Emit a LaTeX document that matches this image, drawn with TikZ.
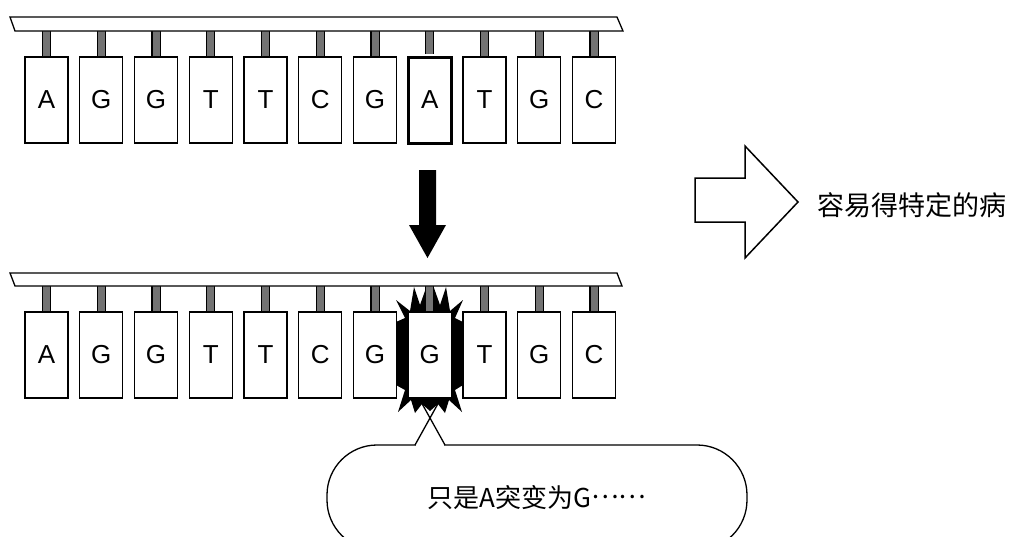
\documentclass[tikz,border=0pt]{standalone}
\usepackage{fontspec}
\setmainfont{Liberation Sans}
\newfontfamily\cjk{Noto Sans CJK SC}
\usetikzlibrary{positioning}

\begin{document}
\begin{tikzpicture}[x=1pt,y=-1pt]
	 \tikzstyle{base}=[draw,fill=white,line width=1.3pt,minimum width=43pt,minimum height=86pt,inner sep=0pt,font=\fontsize{26}{30}\selectfont]
	 \tikzstyle{hit}=[base,line width=3pt]
	 \tikzstyle{stem}=[draw=black,line width=1.2pt,double=black!55,double distance=7pt]
	 \tikzstyle{rail}=[draw,fill=white,line width=1.3pt]
	 \tikzstyle{tail}=[draw,line width=1.3pt]
	 \useasboundingbox (0,0) rectangle (1020,536);
	 \clip (0,0) rectangle (1020,536);

	 % callout under the mutated base
	 \node[draw,line width=1.3pt,rounded corners=50pt,minimum width=420pt,minimum height=105pt,inner sep=0pt,font=\cjk\fontsize{26}{30}\selectfont] (callout) at (537,497.5) {只是A突变为G\raisebox{0.33em}{……}};
	 \coordinate (tailL) at (415,445);
	 \coordinate (tailR) at (445,445);
	 \coordinate (tipL) at (440,400);
	 \coordinate (tipR) at (420,400);
	 \fill[white] (416,443) rectangle (444,447.5);
	 \draw[tail] (tailL) -- (tipL);
	 \draw[tail] (tailR) -- (tipR);

	 % burst
	 \fill (396,300) -- (410,311) -- (414,287) -- (420,305) -- (426,288) -- (434,288) -- (440,305) -- (446,287) -- (450,311) -- (463,300) -- (455,318) -- (463,322) -- (463,385) -- (455,390) -- (462,412) -- (449,400) -- (445,413) -- (438,404) -- (430,411) -- (422,404) -- (415,413) -- (411,400) -- (398,412) -- (405,390) -- (396,385) -- (396,322) -- (405,318) -- cycle;

	 \node[base] (t1) at (46.5,100) {A};
	 \node[base] (t2) at (101.25,100) {G};
	 \node[base] (t3) at (156,100) {G};
	 \node[base] (t4) at (210.75,100) {T};
	 \node[base] (t5) at (265.5,100) {T};
	 \node[base] (t6) at (320.25,100) {C};
	 \node[base] (t7) at (375,100) {G};
	 \node[hit] (t8) at (429.75,100) {A};
	 \node[base] (t9) at (484.5,100) {T};
	 \node[base] (t10) at (539.25,100) {G};
	 \node[base] (t11) at (594,100) {C};

	 \node[base] (b1) at (46.5,355) {A};
	 \node[base] (b2) at (101.25,355) {G};
	 \node[base] (b3) at (156,355) {G};
	 \node[base] (b4) at (210.75,355) {T};
	 \node[base] (b5) at (265.5,355) {T};
	 \node[base] (b6) at (320.25,355) {C};
	 \node[base] (b7) at (375,355) {G};
	 \node[base] (b8) at (429.75,355) {G};
	 \node[base] (b9) at (484.5,355) {T};
	 \node[base] (b10) at (539.25,355) {G};
	 \node[base] (b11) at (594,355) {C};

	 \draw[stem] (t1.north) -- ++(0,-28);
	 \draw[stem] (t2.north) -- ++(0,-28);
	 \draw[stem] (t3.north) -- ++(0,-28);
	 \draw[stem] (t4.north) -- ++(0,-28);
	 \draw[stem] (t5.north) -- ++(0,-28);
	 \draw[stem] (t6.north) -- ++(0,-28);
	 \draw[stem] (t7.north) -- ++(0,-28);
	 \draw[stem] ([yshift=1.5pt]t8.north) -- ++(0,-28);
	 \draw[stem] (t9.north) -- ++(0,-28);
	 \draw[stem] (t10.north) -- ++(0,-28);
	 \draw[stem] (t11.north) -- ++(0,-28);

	 \draw[stem] (b1.north) -- ++(0,-28);
	 \draw[stem] (b2.north) -- ++(0,-28);
	 \draw[stem] (b3.north) -- ++(0,-28);
	 \draw[stem] (b4.north) -- ++(0,-28);
	 \draw[stem] (b5.north) -- ++(0,-28);
	 \draw[stem] (b6.north) -- ++(0,-28);
	 \draw[stem] (b7.north) -- ++(0,-28);
	 \draw[stem] (b8.north) -- ++(0,-28);
	 \draw[stem] (b9.north) -- ++(0,-28);
	 \draw[stem] (b10.north) -- ++(0,-28);
	 \draw[stem] (b11.north) -- ++(0,-28);

	 \draw[rail] (10,17) -- (617,17) -- (623,31) -- (15,31) -- cycle;
	 \draw[rail] (10,273) -- (617,273) -- (622,286) -- (15,286) -- cycle;

	 % arrows
	 \fill (419,170) -- (436,170) -- (436,225) -- (446,225) -- (427.5,258) -- (409,225) -- (419,225) -- cycle;
	 \draw[line width=1.5pt] (695,178) -- (745,178) -- (745,146) -- (798,202) -- (745,258) -- (745,222) -- (695,222) -- cycle;
	 \node[anchor=west,inner sep=0pt,font=\cjk\fontsize{27}{30}\selectfont] (risk) at (817,205) {容易得特定的病};
\end{tikzpicture}
\end{document}
